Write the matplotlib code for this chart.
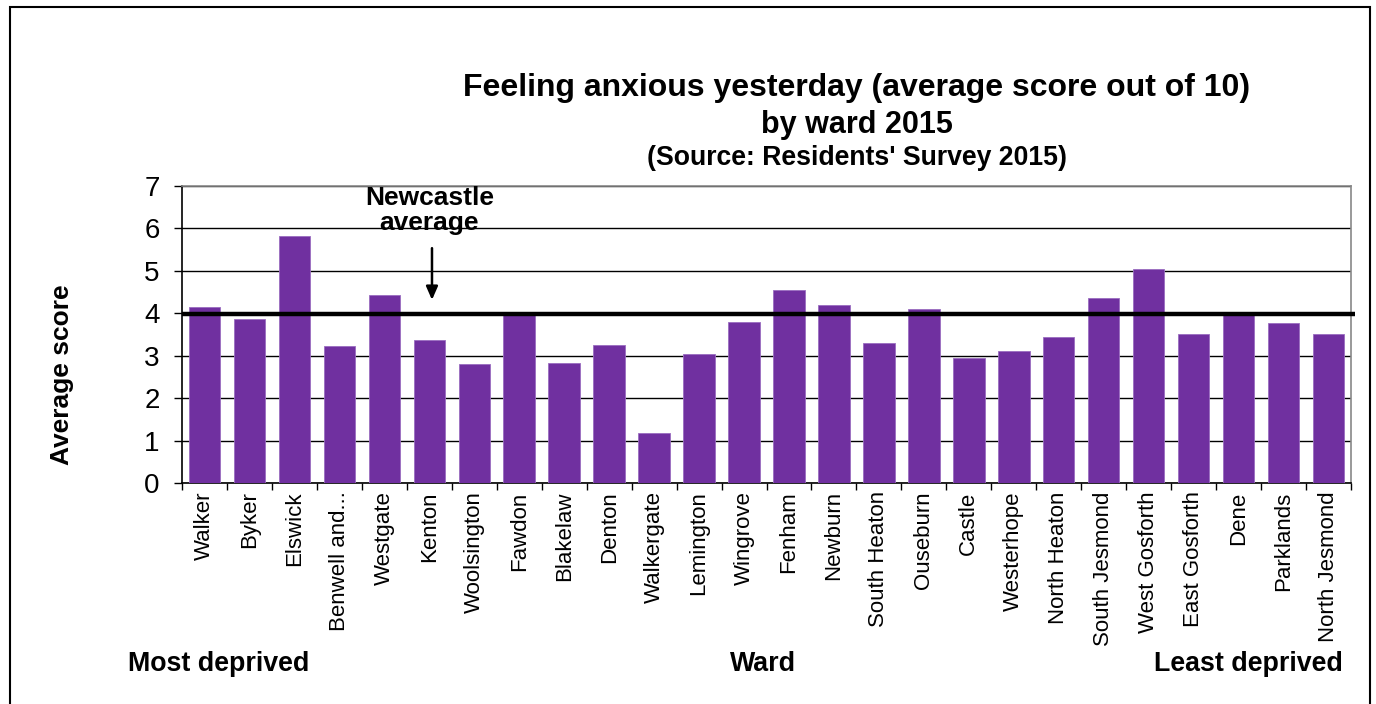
import matplotlib
matplotlib.use("Agg")
import matplotlib.pyplot as plt
from matplotlib import font_manager
from matplotlib.patches import Rectangle

wards = ["Walker", "Byker", "Elswick", "Benwell and...", "Westgate", "Kenton",
         "Woolsington", "Fawdon", "Blakelaw", "Denton", "Walkergate", "Lemington",
         "Wingrove", "Fenham", "Newburn", "South Heaton", "Ouseburn", "Castle",
         "Westerhope", "North Heaton", "South Jesmond", "West Gosforth",
         "East Gosforth", "Dene", "Parklands", "North Jesmond"]
scores = [4.15, 3.86, 5.82, 3.23, 4.43, 3.37, 2.80, 3.97, 2.82, 3.26, 1.19, 3.04,
          3.79, 4.56, 4.19, 3.31, 4.10, 2.94, 3.10, 3.44, 4.37, 5.04, 3.52, 3.97,
          3.77, 3.52]
newcastle_average = 3.98
y_ticks = [0, 1, 2, 3, 4, 5, 6, 7]

available = {f.name for f in font_manager.fontManager.ttflist}
base = "Liberation Sans" if "Liberation Sans" in available else "DejaVu Sans"
plt.rcParams["font.family"] = [base, "DejaVu Sans"]

fig = plt.figure(figsize=(13.76, 7.04), dpi=100)
ax = fig.add_axes([182 / 1376, 1 - 483 / 704, 1169 / 1376, 297 / 704])

x = list(range(len(wards)))
ax.bar(x, scores, width=0.7, color="#7030A0", edgecolor="#9a6cc0",
       linewidth=0.6, zorder=3)

ax.set_xlim(-0.5, len(wards) - 0.5)
ax.set_ylim(0, 7)
ax.set_yticks(y_ticks)
ax.set_yticklabels([str(t) for t in y_ticks], fontsize=20)
ax.yaxis.grid(True, color="black", linewidth=1.0, zorder=1)
ax.set_axisbelow(True)

ax.set_xticks(x)
ax.set_xticklabels(wards, rotation=90, fontsize=16, va="top")
ax.set_xticks([i - 0.5 for i in range(len(wards) + 1)], minor=True)
ax.tick_params(axis="x", which="major", length=0, pad=6)
ax.tick_params(axis="x", which="minor", length=5, width=1, color="black")
ax.tick_params(axis="y", length=6, width=1, pad=10)

for side in ("top", "right"):
    ax.spines[side].set_color("#888888")
    ax.spines[side].set_linewidth(1.2)
for side in ("left", "bottom"):
    ax.spines[side].set_color("black")
    ax.spines[side].set_linewidth(1.2)

# City-wide average
ax.plot([-0.5, len(wards) - 0.42], [newcastle_average] * 2, color="black",
        linewidth=3.2, zorder=4, clip_on=False, solid_capstyle="butt")
ax.annotate("", xy=(5.06, newcastle_average + 0.27), xytext=(5.06, 5.6),
            arrowprops=dict(arrowstyle="-|>,head_width=0.35,head_length=0.8",
                            color="black", lw=1.8), zorder=5)
ax.text(5.0, 6.42, "Newcastle\naverage", ha="center", va="center",
        fontsize=19, fontweight="bold", linespacing=1.05, zorder=5)

ax.set_ylabel("Average score", fontsize=19, fontweight="bold")
ax.yaxis.set_label_coords(-0.0925, 0.365)

# Titles
fig.text(857 / 1376, 1 - 88 / 704, "Feeling anxious yesterday (average score out of 10)",
         ha="center", va="center", fontsize=23, fontweight="bold")
fig.text(857 / 1376, 1 - 125 / 704, "by ward 2015", ha="center", va="center",
         fontsize=22, fontweight="bold")
fig.text(857 / 1376, 1 - 158 / 704, "(Source: Residents' Survey 2015)",
         ha="center", va="center", fontsize=19.2, fontweight="bold")

# Footer labels
fig.text(128 / 1376, 1 - 664 / 704, "Most deprived", ha="left", va="center",
         fontsize=19.3, fontweight="bold")
fig.text(763 / 1376, 1 - 664 / 704, "Ward", ha="center", va="center",
         fontsize=19.3, fontweight="bold")
fig.text(1343 / 1376, 1 - 664 / 704, "Least deprived", ha="right", va="center",
         fontsize=19.3, fontweight="bold")

# Chart-area frame
fig.patches.append(Rectangle((9.5 / 1376, -0.05), (1370 - 9.5) / 1376,
                             1.05 - 6.5 / 704, transform=fig.transFigure,
                             fill=False, edgecolor="black", linewidth=1.5))

fig.savefig("out.png", dpi=100)
